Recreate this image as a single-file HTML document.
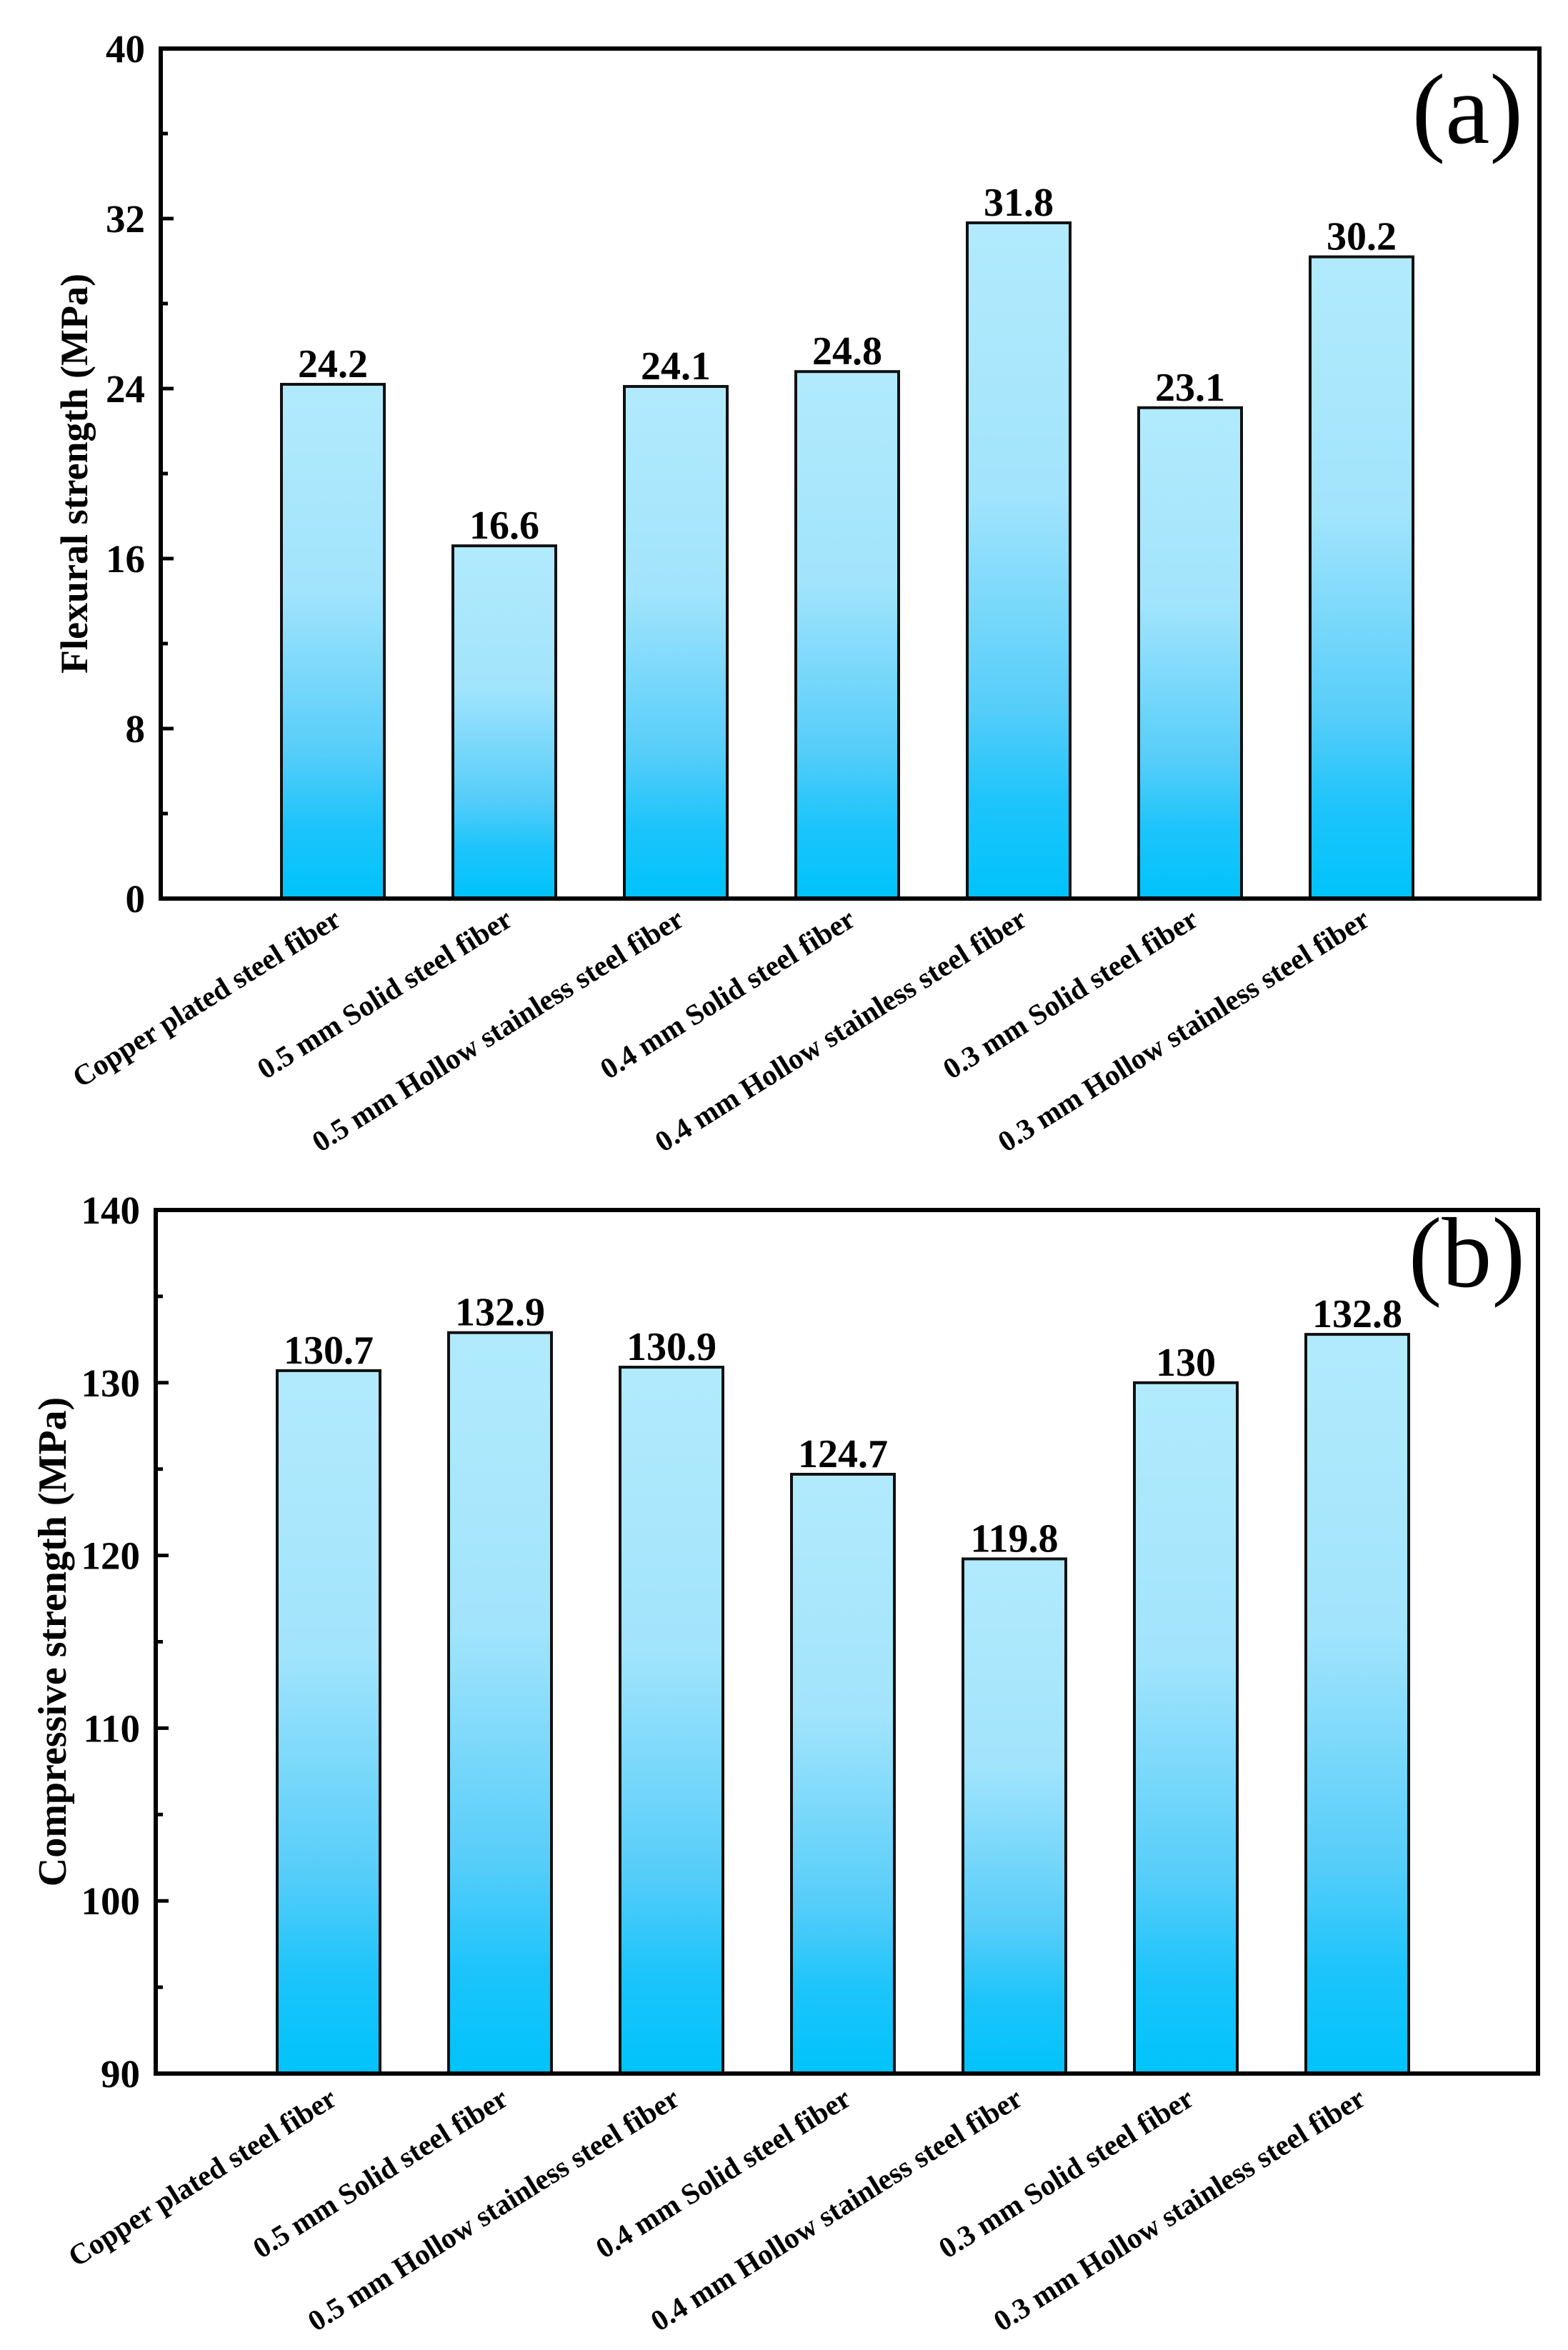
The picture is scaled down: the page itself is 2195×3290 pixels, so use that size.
<!DOCTYPE html>
<html><head><meta charset="utf-8">
<style>
html,body{margin:0;padding:0;background:#fff;}
svg{display:block;}
text{font-family:"Liberation Serif",serif;fill:#000;}
</style></head>
<body>
<svg id="fig" width="2195" height="3290" viewBox="0 0 2195 3290" xmlns="http://www.w3.org/2000/svg">
<defs>
<linearGradient id="barGrad" x1="0" y1="0" x2="0" y2="1">
<stop offset="0" stop-color="#b2eafd"/>
<stop offset="0.4" stop-color="#a2e4fc"/>
<stop offset="0.72" stop-color="#55cdf9"/>
<stop offset="0.86" stop-color="#1cc4fb"/>
<stop offset="1" stop-color="#00c3fb"/>
</linearGradient>
</defs>
</svg>
<script>
const categories = ["Copper plated steel fiber","0.5 mm Solid steel fiber","0.5 mm Hollow stainless steel fiber","0.4 mm Solid steel fiber","0.4 mm Hollow stainless steel fiber","0.3 mm Solid steel fiber","0.3 mm Hollow stainless steel fiber"];
const flexuralValues = [24.2,16.6,24.1,24.8,31.8,23.1,30.2];
const flexuralLabels = ["24.2","16.6","24.1","24.8","31.8","23.1","30.2"];
const compressiveValues = [130.7,132.9,130.9,124.7,119.8,130,132.8];
const compressiveLabels = ["130.7","132.9","130.9","124.7","119.8","130","132.8"];
const flexuralTicks = [0,8,16,24,32,40];
const compressiveTicks = [90,100,110,120,130,140];

const NS = "http://www.w3.org/2000/svg";
const svg = document.getElementById('fig');
function mk(tag, attrs, parent){
  const e = document.createElementNS(NS, tag);
  for (const k in attrs) e.setAttribute(k, attrs[k]);
  (parent||svg).appendChild(e);
  return e;
}

function panel(cfg){
  const g = mk('g', {});
  
  
  const {L,T,R,B,min,max} = cfg;
  const y = v => B - (v - min) / (max - min) * (B - T);
  const x = i => cfg.x0 + 240 * i;
  const step = cfg.ticks[1] - cfg.ticks[0];
  for (let i = 0; i < cfg.ticks.length - 1; i++) {
    const v = cfg.ticks[i] + step / 2;
    const t = mk('line', {x1:L, x2:L+10, y1:y(v), y2:y(v), stroke:'#000', 'stroke-width':5}, g);
    
    
  }
  cfg.ticks.forEach((v, i) => {
    const t = mk('line', {x1:L, x2:L+18, y1:y(v), y2:y(v), stroke:'#000', 'stroke-width':5}, g);
    
    
    const lab = mk('text', {x:L-22, y:y(v)+19, 'text-anchor':'end', 'font-size':55, 'font-weight':'bold'}, g);
    lab.textContent = String(v);
    
    
  });
  cfg.values.forEach((v, i) => {
    const cx = x(i);
    const r = mk('rect', {x:cx-72, y:y(v), width:144, height:B-y(v), fill:'url(#barGrad)', stroke:'#111', 'stroke-width':4}, g);
    
    
    const vl = mk('text', {x:cx, y:y(v)-10, 'text-anchor':'middle', 'font-size':56, 'font-weight':'bold'}, g);
    vl.textContent = cfg.labels[i];
    
    
    const cl = mk('text', {x:0, y:0, 'text-anchor':'end', 'font-size':41, 'font-weight':'bold',
      transform:`translate(${cx+14},${B+cfg.labOff}) rotate(-32)`}, g);
    cl.textContent = categories[i];
    
    
  });
  const frame = mk('rect', {x:L, y:T, width:R-L, height:B-T, fill:'none', stroke:'#000', 'stroke-width':6}, g);
  
  
  const yt = mk('text', {x:0, y:0, 'text-anchor':'middle', 'font-size':cfg.titleSize, 'font-weight':'bold',
    transform:`translate(${cfg.titleX},${(T+B)/2}) rotate(-90)`}, g);
  yt.textContent = cfg.title;
  
  
  const pl = mk('text', {x:cfg.tagX, y:cfg.tagY, 'text-anchor':'end', 'font-size':140}, g);
  pl.textContent = cfg.tag;
  
  
}

panel({name:'flexural-chart', L:225, T:68, R:2155, B:1258, min:0, max:40, ticks:flexuralTicks,
  values:flexuralValues, labels:flexuralLabels, x0:466, labOff:36,
  title:'Flexural strength (MPa)', titleSize:54, titleX:122, tag:'(a)', tagX:2132, tagY:200});
panel({name:'compressive-chart', L:218, T:1694, R:2153, B:2903, min:90, max:140, ticks:compressiveTicks,
  values:compressiveValues, labels:compressiveLabels, x0:460, labOff:42,
  title:'Compressive strength (MPa)', titleSize:56, titleX:92, tag:'(b)', tagX:2135, tagY:1801});
</script>
</body></html>
